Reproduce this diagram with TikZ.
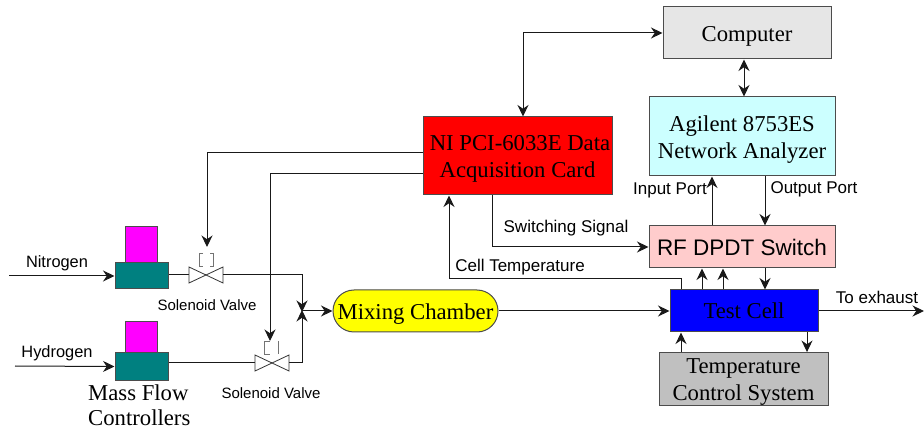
\documentclass[tikz,border=0pt]{standalone}
\usepackage{fontspec}
\setmainfont{Liberation Serif}
\setsansfont{Liberation Sans}
\usetikzlibrary{arrows.meta,shapes.misc}
\definecolor{pcgray}{HTML}{E6E6E6}
\definecolor{pccyan}{HTML}{CCFFFF}
\definecolor{pcpink}{HTML}{FFCCCC}
\definecolor{pcblue}{HTML}{0000FF}
\definecolor{pcsilver}{HTML}{C0C0C0}
\definecolor{pcred}{HTML}{FF0000}
\definecolor{pcyellow}{HTML}{FFFF00}
\definecolor{pcmagenta}{HTML}{FF00FF}
\definecolor{pcteal}{HTML}{008080}
\newcommand{\valveshape}[1]{\draw[valveline] ([shift={(-17,-8)}]#1)--([shift={(17,8)}]#1)--([shift={(17,-8)}]#1)--([shift={(-17,8)}]#1)--cycle;}
\newcommand{\liftline}{\rule{0pt}{21pt}}
\tikzset{
  blockbox/.style={draw=black!70, line width=1pt, align=center, inner sep=0pt,
    font=\fontsize{22.7}{27}\selectfont},
  flowline/.style={->, line width=1pt, black!90},
  bothline/.style={<->, line width=1pt, black!90},
  plainline/.style={line width=1pt, black!90},
  valveline/.style={line width=.8pt, black!80, fill=white},
  bracketline/.style={line width=.8pt, black!55},
  smalltext/.style={font=\sffamily\fontsize{17}{20}\selectfont, inner sep=0pt},
  valvetext/.style={font=\sffamily\fontsize{15}{18}\selectfont, inner sep=0pt},
  gastext/.style={font=\sffamily\fontsize{16.4}{20}\selectfont, inner sep=0pt},
  bigtext/.style={font=\fontsize{22.7}{25}\selectfont, inner sep=0pt, align=left},
}
\begin{document}
\begin{tikzpicture}[>={Stealth[length=11.5pt,width=11pt]}, x=1pt, y=-1pt]
\useasboundingbox (0,0) rectangle (924,430);
% boxes
\node[blockbox, fill=pcgray, minimum width=168pt, minimum height=52pt] (computer) at (747,33) {\liftline Computer};
\node[blockbox, fill=pccyan, minimum width=186pt, minimum height=79pt] (analyzer) at (742,136.5) {\liftline Agilent 8753ES\\Network Analyzer};
\node[blockbox, fill=pcpink, minimum width=186pt, minimum height=42pt, font=\sffamily\fontsize{22.5}{27}\selectfont] (switch) at (742,247) {RF DPDT Switch};
\node[blockbox, fill=pcblue, minimum width=148pt, minimum height=42pt] (cell) at (744,311) {Test Cell};
\node[blockbox, fill=pcsilver, minimum width=169pt, minimum height=52pt] (tempsys) at (743.5,379) {\liftline Temperature\\Control System};
\node[blockbox, fill=pcred, minimum width=189pt, minimum height=78pt] (daq) at (517.5,156) {\liftline\hspace*{5pt}NI PCI-6033E Data\\Acquisition Card};
\node[blockbox, fill=pcyellow, rounded rectangle, minimum width=165pt, minimum height=42pt] (mixer) at (415.5,311) {\liftline Mixing Chamber};
% mass flow controllers
\node[blockbox, fill=pcmagenta, minimum width=32pt, minimum height=36pt] (topA) at (141,245) {};
\node[blockbox, fill=pcteal, minimum width=53pt, minimum height=26pt] (mfcA) at (141.5,276) {};
\node[blockbox, fill=pcmagenta, minimum width=32pt, minimum height=32pt] (topB) at (141,337.5) {};
\node[blockbox, fill=pcteal, minimum width=53pt, minimum height=27pt] (mfcB) at (141.5,366.5) {};
% valves
\coordinate (valveA) at (206,275);
\coordinate (valveB) at (272,363);
\coordinate (join) at (302,311);
\coordinate (inA) at (9,276);
\coordinate (inB) at (15,366);
\coordinate (outlet) at (924,311);
\coordinate (ctrlA) at (207,153);
\coordinate (ctrlB) at (270,174);
\draw[plainline] (mfcA.east |- valveA)--(valveA);
\draw[plainline] (mfcB.east |- valveB)--(valveB);
\valveshape{valveA}
\valveshape{valveB}
\draw[bracketline] (203,253)--(199,253)--(199,266)--(203,266);
\draw[bracketline] (210,253)--(213,253)--(213,266)--(210,266);
\draw[bracketline] (270,341)--(264,341)--(264,354)--(270,354);
\draw[bracketline] (278,341)--(278,354);
% connectors
\draw[flowline] (inA)--(mfcA.west);
\draw[flowline] (inB)--(mfcB.west);
\draw[flowline] ([xshift=17pt]valveA) -| ([yshift=-1pt]join);
\draw[flowline] ([xshift=17pt]valveB) -| ([yshift=1pt]join);
\draw[flowline] (join)--(mixer.west);
\draw[flowline] (mixer.east)--(cell.west);
\draw[flowline] (cell.east)--(outlet);
\draw[plainline] (daq.west |- ctrlA)--(ctrlA);
\draw[flowline] (ctrlA)--(207,247);
\draw[plainline] (daq.west |- ctrlB)--(ctrlB);
\draw[flowline] (ctrlB)--(270,341);
\draw[bothline] (computer.west) -| (daq.north -| 523,0);
\draw[bothline] (computer.south -| 744,0)--(analyzer.north -| 744,0);
\draw[flowline] (switch.north -| 712,0)--(analyzer.south -| 712,0);
\draw[flowline] (analyzer.south -| 765,0)--(switch.north -| 765,0);
\draw[flowline] (daq.south -| 492,0) |- (switch.west);
\draw[flowline] (cell.north -| 681,0) |- (449,279)--(daq.south -| 449,0);
\draw[flowline] (cell.north -| 702,0)--(switch.south -| 702,0);
\draw[flowline] (cell.north -| 723,0)--(switch.south -| 723,0);
\draw[flowline] (switch.south -| 765,0)--(cell.north -| 765,0);
\draw[flowline] (tempsys.north -| 681,0)--(cell.south -| 681,0);
\draw[flowline] (cell.south -| 807,0)--(tempsys.north -| 807,0);
% labels
\node[gastext] (nitrogen) at (57,263) {Nitrogen};
\node[gastext] (hydrogen) at (57,353) {Hydrogen};
\node[valvetext] (valvetextA) at (207,305) {Solenoid Valve};
\node[valvetext] (valvetextB) at (271,393) {Solenoid Valve};
\node[smalltext] (signal) at (566,228) {Switching Signal};
\node[smalltext] (celltemp) at (520,267) {Cell Temperature};
\node[smalltext] (inport) at (670,190) {Input Port};
\node[smalltext] (outport) at (814,189) {Output Port};
\node[smalltext] (exhaust) at (877,297) {To exhaust};
\node[bigtext, anchor=north west] (mfctext) at (88,385) {Mass Flow\\Controllers};
\end{tikzpicture}
\end{document}
